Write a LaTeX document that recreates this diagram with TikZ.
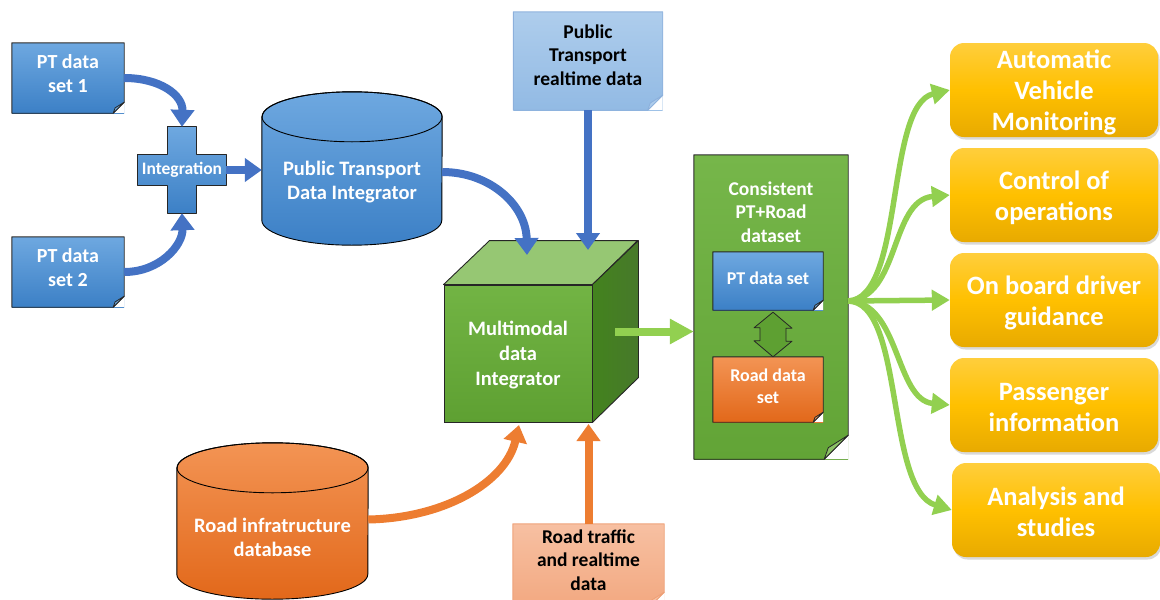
\documentclass[tikz,border=0pt]{standalone}
\usepackage{fontspec}
\setmainfont{Carlito}
\usetikzlibrary{arrows.meta,shadows,calc}

\definecolor{blueT}{RGB}{110,168,224}
\definecolor{blueB}{RGB}{60,128,198}
\definecolor{blueArrow}{RGB}{68,114,196}
\definecolor{greenArrow}{RGB}{146,208,80}
\definecolor{orangeArrow}{RGB}{237,125,49}
\definecolor{orangeT}{RGB}{243,148,84}
\definecolor{orangeB}{RGB}{226,104,26}
\definecolor{cubeT}{RGB}{114,180,68}
\definecolor{cubeB}{RGB}{94,160,50}
\definecolor{cubeTop}{RGB}{150,199,115}
\definecolor{cubeSide}{RGB}{84,142,50}
\definecolor{consT}{RGB}{118,182,74}
\definecolor{consB}{RGB}{98,164,54}
\definecolor{yelT}{RGB}{255,206,60}
\definecolor{yelM}{RGB}{255,192,0}
\definecolor{yelB}{RGB}{232,170,0}
\definecolor{lbT}{RGB}{174,205,236}
\definecolor{lbB}{RGB}{146,186,228}
\definecolor{lbLine}{RGB}{140,176,220}
\definecolor{salT}{RGB}{247,192,162}
\definecolor{salB}{RGB}{242,168,128}
\definecolor{salLine}{RGB}{238,160,118}

\newcommand\foldnote[4]{%
  \fill[white] ([yshift=#2pt]#1.south east) -- (#1.south east) -- ([xshift=-#2pt]#1.south east) -- cycle;
  \draw[#3, line width=0.9pt, line join=round] (#1.north west) -- (#1.north east) -- ([yshift=#2pt]#1.south east) -- ([xshift=-#2pt]#1.south east) -- (#1.south west) -- cycle;
  \filldraw[draw=#3, fill=#4, line width=0.8pt, line join=round] ([yshift=#2pt]#1.south east) -- ([xshift=-0.83*#2pt, yshift=0.48*#2pt]#1.south east) -- ([xshift=-#2pt]#1.south east) -- cycle;
}
\newcommand\cylshape[5]{% name, rx, ry, top color, bottom color
  \path[top color=#4, bottom color=#5, draw=black, line width=0.9pt]
    (#1.north west) -- ([yshift=#3pt]#1.south west)
    arc[start angle=180, end angle=360, x radius=#2pt, y radius=#3pt]
    -- (#1.north east)
    arc[start angle=0, end angle=180, x radius=#2pt, y radius=#3pt] -- cycle;
  \draw[line width=0.9pt] (#1.north) ellipse[x radius=#2pt, y radius=#3pt];
}

\begin{document}
\begin{tikzpicture}[x=1pt, y=-1pt,
  txt/.style={font=\bfseries\fontsize{20}{24}\selectfont, align=center, text=white},
  ytxt/.style={font=\bfseries\fontsize{26.5}{31}\selectfont, align=center, text=white},
  note/.style={rectangle, inner sep=0pt},
  bluenote/.style={note, top color=blueT, bottom color=blueB},
  cylbox/.style={rectangle, inner sep=0pt, draw=none},
  ybox/.style={rectangle, rounded corners=14pt, minimum width=208pt, minimum height=94pt,
    inner sep=0pt, top color=yelT, bottom color=yelB, middle color=yelM,
    drop shadow={shadow xshift=1.5pt, shadow yshift=-2.5pt, opacity=0.3}},
  barrow/.style={draw=blueArrow, line width=8pt, -{Triangle[length=17pt, width=23pt]}},
  oarrow/.style={draw=orangeArrow, line width=8pt, -{Triangle[length=17pt, width=23pt]}},
  garrow/.style={draw=greenArrow, line width=5.5pt, -{Triangle[length=18pt, width=20pt]}},
  gbig/.style={draw=greenArrow, line width=8pt, -{Triangle[length=24pt, width=24pt]}}
]
\useasboundingbox (0,0) rectangle (1160,600);

% ---- PT data sets
\node[bluenote, minimum width=112pt, minimum height=70pt] (set1) at (68,78) {};
\foldnote{set1}{11}{black!85}{blueT}
\node[txt] (set1text) at (68,74) {PT data\\set 1};
\node[bluenote, minimum width=112pt, minimum height=70pt] (set2) at (68,272) {};
\foldnote{set2}{11}{black!85}{blueT}
\node[txt] (set2text) at (68,268) {PT data\\set 2};

% ---- Integration cross
\node[minimum width=88pt, minimum height=86pt, inner sep=0pt] (integ) at (182,170) {};
\path[top color=blueT, bottom color=blueB, draw=black!85, line width=0.9pt, line join=round]
  ([xshift=30pt]integ.north west) -- ([xshift=-30pt]integ.north east)
  -- ([xshift=-30pt, yshift=-28pt]integ.north east) -- ([yshift=-28pt]integ.north east)
  -- ([yshift=28pt]integ.south east) -- ([xshift=-30pt, yshift=28pt]integ.south east)
  -- ([xshift=-30pt]integ.south east) -- ([xshift=30pt]integ.south west)
  -- ([xshift=30pt, yshift=28pt]integ.south west) -- ([yshift=28pt]integ.south west)
  -- ([yshift=-28pt]integ.north west) -- ([xshift=30pt, yshift=-28pt]integ.north west) -- cycle;
\node[txt, font=\bfseries\fontsize{17.5}{20}\selectfont] (integtext) at (integ.center) {Integration};

% ---- PT database cylinder
\node[cylbox, minimum width=180pt, minimum height=128pt] (ptdb) at (352,181) {};
\cylshape{ptdb}{90}{25}{blueT}{blueB}
\node[txt, font=\bfseries\fontsize{20.5}{23.5}\selectfont] (ptdbtext) at (352,182) {Public Transport\\Data Integrator};

% ---- Road database cylinder
\node[cylbox, minimum width=191pt, minimum height=131pt] (roaddb) at (272.5,533.5) {};
\cylshape{roaddb}{95.5}{25}{orangeT}{orangeB}
\node[txt, font=\bfseries\fontsize{20.5}{24}\selectfont] (roaddbtext) at (272.5,537) {Road infratructure\\database};

% ---- Public Transport realtime note
\node[note, minimum width=149pt, minimum height=98pt, top color=lbT, bottom color=lbB] (ptrt) at (588,61) {};
\foldnote{ptrt}{15}{lbLine}{lbT}
\node[txt, text=black, font=\bfseries\fontsize{19.5}{23.5}\selectfont] (ptrttext) at (588,55) {Public\\Transport\\realtime data};

% ---- Road traffic note
\node[note, minimum width=151pt, minimum height=84pt, top color=salT, bottom color=salB] (roadrt) at (588.5,566) {};
\foldnote{roadrt}{16}{salLine}{salT}
\node[txt, text=black, font=\bfseries\fontsize{19.5}{23.5}\selectfont] (roadrttext) at (588.5,560) {Road traffic\\and realtime\\data};

% ---- Cube
\node[rectangle, inner sep=0pt, minimum width=148pt, minimum height=137pt, top color=cubeT, bottom color=cubeB, draw=black!85, line width=0.9pt] (cube) at (518,353.5) {};
\filldraw[fill=cubeTop, draw=black!85, line width=0.9pt, line join=round] (cube.north west) -- ++(46,-44) -- ++(148,0) -- (cube.north east) -- cycle;
\path[left color=cubeSide!110, right color=cubeSide!85!black, draw=black!85, line width=0.9pt, line join=round] (cube.north east) -- ++(46,-44) -- ++(0,137) -- (cube.south east) -- cycle;
\node[txt, font=\bfseries\fontsize{20.5}{25}\selectfont] (cubetext) at (518,355.5) {Multimodal\\data\\Integrator};
\coordinate (toptipL) at (527,255);
\coordinate (toptipR) at (588,250);
\coordinate (bottipL) at (519,425);
\coordinate (bottipR) at (588.5,424);
\coordinate (cuberight) at ([xshift=23pt, yshift=22pt]cube.east);

% ---- Consistent dataset note
\node[note, minimum width=154pt, minimum height=304pt, top color=consT, bottom color=consB] (cons) at (771,307) {};
\foldnote{cons}{24}{black!85}{consT!85!white}
\node[txt, font=\bfseries\fontsize{19.5}{23.5}\selectfont] (constext) at (771,212) {Consistent\\PT+Road\\dataset};

\node[bluenote, minimum width=110pt, minimum height=58pt] (ptset) at (768,281) {};
\foldnote{ptset}{10}{black!85}{blueT}
\node[txt, font=\bfseries\fontsize{18}{22}\selectfont] (ptsettext) at (768,278) {PT data set};
\node[note, minimum width=110pt, minimum height=65pt, top color=orangeT, bottom color=orangeB] (roadset) at (768,389.5) {};
\foldnote{roadset}{10}{black!85}{orangeT}
\node[txt, font=\bfseries\fontsize{18}{22}\selectfont] (roadsettext) at (768,386) {Road data\\set};

% double arrow between the two inner sets
\coordinate (dtop) at ([xshift=5pt, yshift=-2pt]ptset.south);
\coordinate (dbot) at ([xshift=5pt]roadset.north);
\filldraw[fill=cubeB, draw=black!85, line width=0.8pt, line join=round]
  (dtop) -- ++(19,16) -- ++(-6,0) -- ++(0,13) -- ++(6,0) -- (dbot)
  -- ++(-19,-16) -- ++(6,0) -- ++(0,-13) -- ++(-6,0) -- cycle;

% ---- Right boxes
\node[ybox] (b1) at (1054,90) {};
\node[ytxt] (b1text) at (1054,92.5) {Automatic\\Vehicle\\Monitoring};
\node[ybox] (b2) at (1054,195) {};
\node[ytxt] (b2text) at (1054,198) {Control of\\operations};
\node[ybox] (b3) at (1054,300) {};
\node[ytxt] (b3text) at (1054,303) {On board driver\\guidance};
\node[ybox] (b4) at (1054,405) {};
\node[ytxt] (b4text) at (1054,407) {Passenger\\information};
\node[ybox] (b5) at (1056,510) {};
\node[ytxt] (b5text) at (1056,511.5) {Analysis and\\studies};

% ---- Connectors
\draw[barrow] (set1.east) .. controls (160,78) and (183,95) .. (integ.north);
\draw[barrow] (set2.east) .. controls (160,272) and (183,245) .. (integ.south);
\draw[barrow] (integ.east) -- (ptdb.west |- integ.east);
\draw[barrow] ([yshift=9pt]ptdb.east) .. controls (490,172) and (526,205) .. (toptipL);
\draw[barrow] (ptrt.south) -- (toptipR);
\draw[oarrow] ([yshift=14pt]roaddb.east) .. controls (445,518) and (506,482) .. (bottipL);
\draw[oarrow] (roadrt.north) -- (bottipR);
\draw[gbig] (cuberight) -- (cons.west |- cuberight);

\coordinate (fan) at ([yshift=6pt]cons.east);
\draw[garrow] (fan) .. controls (905,298) and (885,105) .. (b1.west);
\draw[garrow] (fan) .. controls (900,298) and (890,200) .. (b2.west);
\draw[garrow] (fan) -- (b3.west);
\draw[garrow] (fan) .. controls (900,302) and (895,400) .. (b4.west);
\draw[garrow] (fan) .. controls (905,302) and (885,490) .. (b5.west);
\end{tikzpicture}
\end{document}
